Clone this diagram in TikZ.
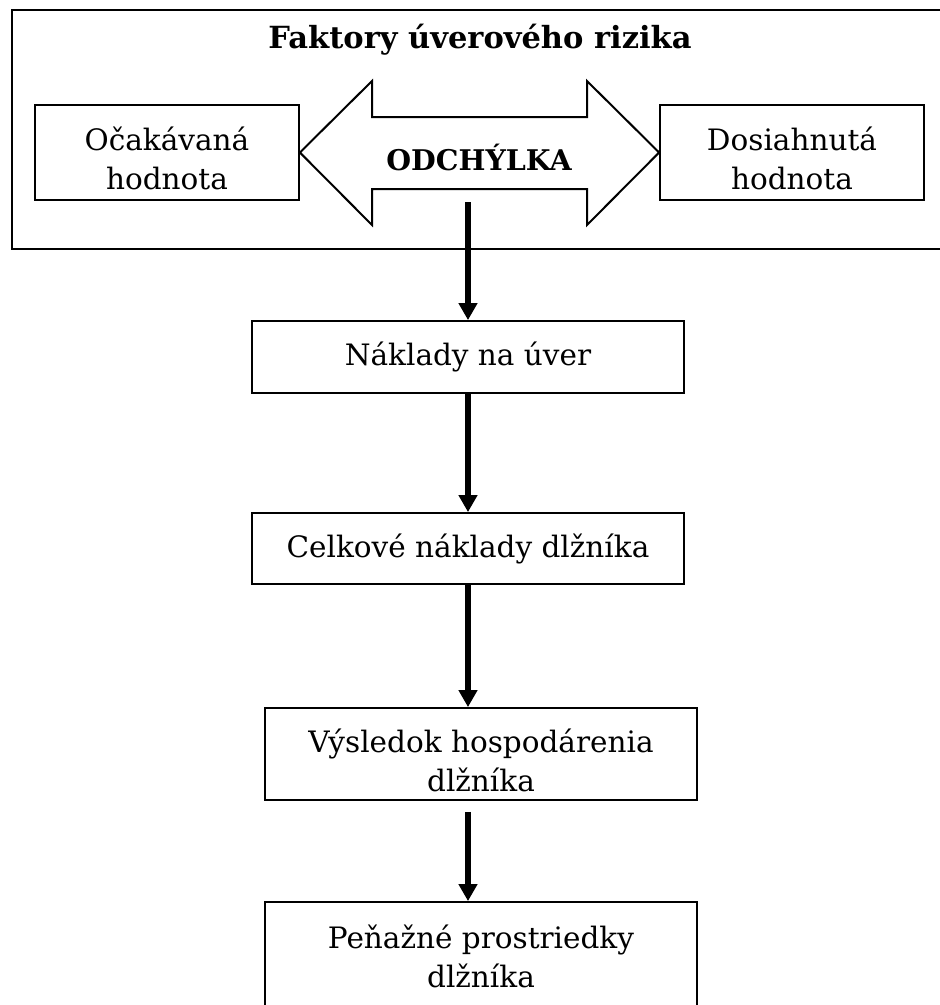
\documentclass[tikz,border=0pt]{standalone}
\usepackage{fontspec}
\setmainfont{DejaVu Serif}
\usetikzlibrary{arrows.meta,calc}
% two centred lines set a little below the middle of their box
\newcommand\lowpair[2]{\rule{0pt}{43.6pt}#1\\#2\rule[-8pt]{0pt}{0pt}}
\tikzset{
  outline/.style={draw=black, line width=2pt},
  box/.style={draw=black, line width=1.8pt, align=center, inner sep=0pt,
              font=\fontsize{29.5}{39}\selectfont},
  flow/.style={line width=5.5pt, -{Triangle[width=18pt,length=17pt]}}
}
\begin{document}
\begin{tikzpicture}[x=1pt, y=-1pt]
  \useasboundingbox (0,0) rectangle (940,1005);
  \clip (0,0) rectangle (940,1005);
  \fill[white] (0,0) rectangle (940,1005);

  % outer frame (right edge runs past the page)
  \draw[outline] (11.5,9.5) rectangle (960,248.5);
  \node[font=\bfseries\fontsize{30.5}{36}\selectfont] (title) at (480,40) {Faktory úverového rizika};

  % side boxes
  \node[box, minimum width=264pt, minimum height=95pt] (ocak) at (167,152.5) {\lowpair{Očakávaná}{hodnota}};
  \node[box, minimum width=264pt, minimum height=95pt] (dosi) at (792,152.5) {\lowpair{Dosiahnutá}{hodnota}};

  % the double arrow between them
  \draw[outline, line join=miter] (ocak.east) -- (372,81) -- (372,117) -- (587,117) -- (587,81)
    -- (dosi.west) -- (587,225) -- (587,189) -- (372,189) -- (372,225) -- cycle;
  \node[font=\bfseries\fontsize{28.5}{30}\selectfont] (odch) at (479,157) {ODCHÝLKA};
  \coordinate (odchfoot) at (468,202);

  % chain of consequences
  \node[box, minimum width=432pt, minimum height=72pt] (naklady) at (468,357) {Náklady na úver};
  \node[box, minimum width=432pt, minimum height=71pt] (celkove) at (468,548.5) {Celkové náklady dlžníka};
  \node[box, minimum width=432pt, minimum height=92pt] (vysledok) at (481,754) {\lowpair{Výsledok hospodárenia}{dlžníka}};
  \node[box, minimum width=432pt, minimum height=108pt] (penazne) at (481,956) {Peňažné prostriedky\\dlžníka};

  \draw[flow] (odchfoot) -- (naklady.north);
  \draw[flow] (naklady.south) -- (celkove.north);
  \draw[flow] (celkove.south) -- (celkove.south |- vysledok.north);
  \draw[flow] ($(vysledok.south -| celkove.south)+(0,11)$) -- (celkove.south |- penazne.north);
\end{tikzpicture}
\end{document}
